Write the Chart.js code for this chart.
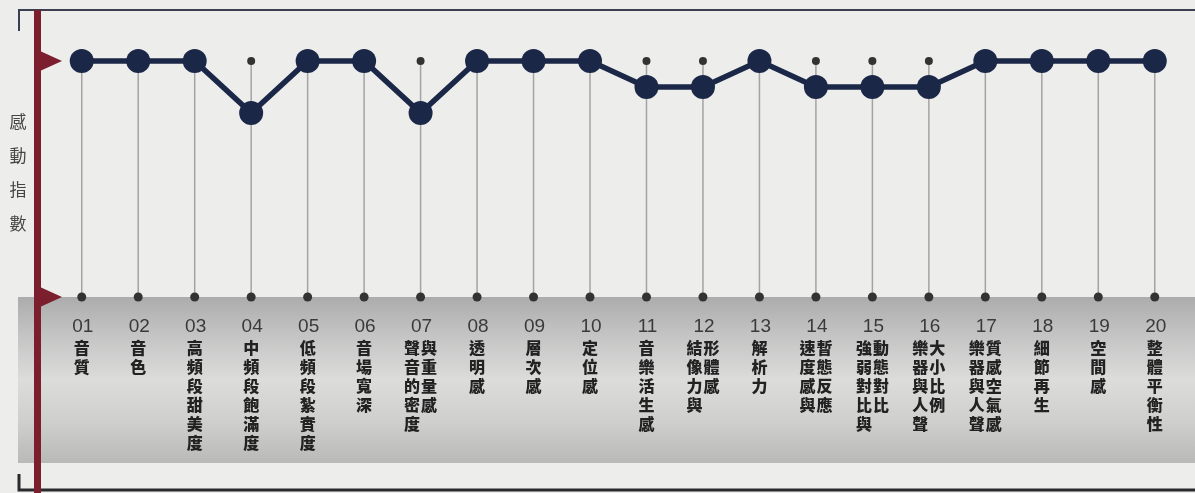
<!DOCTYPE html>
<html>
<head>
<meta charset="utf-8">
<script src="https://cdn.jsdelivr.net/npm/chart.js@4.4.1/dist/chart.umd.min.js"></script>
<style>
html,body{margin:0;padding:0;background:#ededeb;}
#wrap{position:relative;width:1195px;height:493px;}
</style>
</head>
<body>
<div id="wrap"><canvas id="c" width="1195" height="493"></canvas></div>
<script>
// ---- data ----
const codes = ['01','02','03','04','05','06','07','08','09','10','11','12','13','14','15','16','17','18','19','20'];
const nameColumns = [
  ['音質'], ['音色'], ['高頻段甜美度'], ['中頻段飽滿度'], ['低頻段紮實度'],
  ['音場寬深'], ['聲音的密度','與重量感'], ['透明感'], ['層次感'], ['定位感'],
  ['音樂活生感'], ['結像力與','形體感'], ['解析力'], ['速度感與','暫態反應'], ['強弱對比與','動態對比'],
  ['樂器與人聲','大小比例'], ['樂器與人聲','質感空氣感'], ['細節再生'], ['空間感'], ['整體平衡性']
];
const scores    = [10,10,10,7.8,10,10,7.8,10,10,10,8.9,8.9,10,8.9,8.9,8.9,10,10,10,10];
const fullMarks = [10,10,10,10,10,10,10,10,10,10,10,10,10,10,10,10,10,10,10,10];
const baseline  = [0,0,0,0,0,0,0,0,0,0,0,0,0,0,0,0,0,0,0,0];
const yTitle = '感動指數';
const yMin = 0, yMax = 10;

// ---- decoration plugin ----
const deco = {
  id: 'deco',
  beforeDraw(chart) {
    const ctx = chart.ctx, W = chart.width, H = chart.height;
    const y = chart.scales.y;
    const yTop = y.getPixelForValue(yMax), yBase = y.getPixelForValue(yMin);
    ctx.save();
    ctx.fillStyle = '#ededeb';
    ctx.fillRect(0, 0, W, H);
    // band
    const bandTop = yBase, bandBot = 463;
    const g = ctx.createLinearGradient(0, bandTop, 0, bandBot);
    g.addColorStop(0, '#abacab');
    g.addColorStop(0.22, '#c2c3c2');
    g.addColorStop(0.5, '#dcdcdb');
    g.addColorStop(0.75, '#cfcfce');
    g.addColorStop(1, '#b9b9b8');
    ctx.fillStyle = g;
    ctx.fillRect(18, bandTop, W - 18, bandBot - bandTop);
    // frame lines
    ctx.strokeStyle = '#3b3f52';
    ctx.lineWidth = 2;
    ctx.beginPath();
    ctx.moveTo(19, 31); ctx.lineTo(19, 10); ctx.lineTo(W, 10);
    ctx.stroke();
    ctx.strokeStyle = '#2a2a2e';
    ctx.lineWidth = 3;
    ctx.beginPath();
    ctx.moveTo(19, 474); ctx.lineTo(19, 490); ctx.lineTo(W, 490);
    ctx.stroke();
    // maroon bar
    ctx.fillStyle = '#7b1f2f';
    ctx.fillRect(34, 10, 7, H - 10);
    // triangles
    [yTop, yBase].forEach(py => {
      ctx.beginPath();
      ctx.moveTo(40, py - 10);
      ctx.lineTo(62, py);
      ctx.lineTo(40, py + 10);
      ctx.closePath();
      ctx.fill();
    });
    // y title
    ctx.fillStyle = '#454545';
    ctx.font = '17px "Noto Sans CJK TC"';
    ctx.textAlign = 'center';
    ctx.textBaseline = 'middle';
    [...yTitle].forEach((ch, i) => ctx.fillText(ch, 18, 122 + i * 34));
    ctx.restore();
  },
  beforeDatasetsDraw(chart) {
    const ctx = chart.ctx, y = chart.scales.y, x = chart.scales.x;
    ctx.save();
    ctx.strokeStyle = '#a3a3a3';
    ctx.lineWidth = 1.5;
    codes.forEach((c, i) => {
      const px = x.getPixelForValue(i);
      ctx.beginPath();
      ctx.moveTo(px, y.getPixelForValue(fullMarks[i]));
      ctx.lineTo(px, y.getPixelForValue(baseline[i]));
      ctx.stroke();
    });
    ctx.restore();
  },
  afterDraw(chart) {
    const ctx = chart.ctx, x = chart.scales.x, y = chart.scales.y;
    const yBase = y.getPixelForValue(yMin);
    ctx.save();
    ctx.textAlign = 'center';
    ctx.textBaseline = 'middle';
    codes.forEach((c, i) => {
      const px = x.getPixelForValue(i);
      ctx.fillStyle = '#3a3a3a';
      ctx.font = '19px "Liberation Sans"';
      ctx.fillText(c, px + 1, yBase + 30);
      ctx.fillStyle = '#222222';
      ctx.font = '900 16px "Noto Sans CJK TC"';
      const cols = nameColumns[i];
      cols.forEach((col, k) => {
        const cx = cols.length === 1 ? px : px + (k === 0 ? -8.5 : 8.5);
        [...col].forEach((ch, j) => ctx.fillText(ch, cx, yBase + 51 + j * 19));
      });
    });
    ctx.restore();
  }
};

new Chart(document.getElementById('c'), {
  type: 'line',
  data: {
    labels: codes,
    datasets: [
      {
        label: '感動指數',
        data: scores,
        borderColor: '#1b2747',
        backgroundColor: '#1b2747',
        borderWidth: 5.5,
        pointRadius: 12,
        pointBorderWidth: 0,
        pointBackgroundColor: '#1b2747',
        tension: 0,
        clip: false,
        order: 0
      },
      {
        label: '滿分',
        data: fullMarks,
        showLine: false,
        pointRadius: 4,
        pointBorderWidth: 0,
        pointBackgroundColor: '#333333',
        clip: false,
        order: 1
      },
      {
        label: '基準',
        data: baseline,
        showLine: false,
        pointRadius: 4.5,
        pointBorderWidth: 0,
        pointBackgroundColor: '#333333',
        clip: false,
        order: 2
      }
    ]
  },
  options: {
    responsive: false,
    animation: false,
    events: [],
    layout: { padding: { left: 53.5, right: 0.5, top: 61, bottom: 196 } },
    plugins: { legend: { display: false }, tooltip: { enabled: false } },
    scales: {
      x: { type: 'category', offset: true, display: false },
      y: { min: yMin, max: yMax, display: false }
    }
  },
  plugins: [deco]
});
</script>
</body>
</html>
